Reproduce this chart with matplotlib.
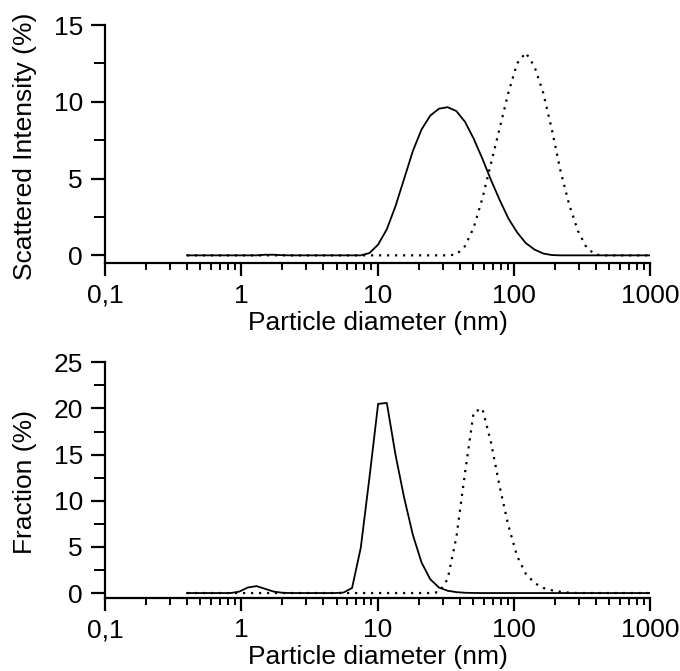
"""DLS size distributions: intensity (top) and number fraction (bottom)."""

import matplotlib
matplotlib.use("Agg")
import matplotlib.pyplot as plt
from matplotlib.ticker import FixedLocator, FixedFormatter, LogLocator, MultipleLocator, NullFormatter

plt.rcParams["font.family"] = ["Liberation Sans", "DejaVu Sans"]

# --- Size bins (nm) ---
diameter = [
    0.4, 0.4632, 0.5365, 0.6213, 0.7195, 0.8332, 0.9649, 1.117, 1.294, 1.499,
    1.736, 2.010, 2.328, 2.696, 3.122, 3.615, 4.187, 4.849, 5.615, 6.503,
    7.531, 8.721, 10.10, 11.70, 13.54, 15.69, 18.17, 21.04, 24.36, 28.21,
    32.67, 37.84, 43.82, 50.75, 58.77, 68.06, 78.82, 91.28, 105.7, 122.4,
    141.8, 164.2, 190.1, 220.2, 255.0, 295.3, 342.0, 396.1, 458.7, 531.2,
    615.1, 712.4, 825.0, 955.4, 1106,
]

# --- Scattered intensity (%) ---
intensity_solid = [
    0, 0, 0, 0, 0, 0, 0, 0, 0, 0.04,
    0.04, 0.01, 0, 0, 0, 0, 0, 0, 0, 0,
    0, 0.15, 0.7, 1.7, 3.2, 5.0, 6.8, 8.2, 9.1, 9.55,
    9.65, 9.4, 8.7, 7.6, 6.3, 4.9, 3.6, 2.4, 1.5, 0.8,
    0.38, 0.12, 0.02, 0, 0, 0, 0, 0, 0, 0,
    0, 0, 0, 0, 0,
]
intensity_dotted = [
    0, 0, 0, 0, 0, 0, 0, 0, 0, 0,
    0, 0, 0, 0, 0, 0, 0, 0, 0, 0,
    0, 0, 0, 0, 0, 0, 0, 0, 0, 0,
    0, 0.05, 0.6, 1.8, 3.7, 6.0, 8.3, 10.6, 12.5, 13.2,
    12.3, 10.6, 8.2, 5.5, 3.3, 1.6, 0.5, 0.05, 0, 0,
    0, 0, 0, 0, 0,
]

# --- Number fraction (%) ---
fraction_solid = [
    0, 0, 0, 0, 0, 0, 0.15, 0.6, 0.75, 0.45,
    0.15, 0.03, 0, 0, 0, 0, 0, 0, 0.05, 0.55,
    4.9, 12.5, 20.5, 20.6, 15.0, 10.3, 6.3, 3.3, 1.5, 0.6,
    0.25, 0.1, 0.03, 0.01, 0, 0, 0, 0, 0, 0,
    0, 0, 0, 0, 0, 0, 0, 0, 0, 0,
    0, 0, 0, 0, 0,
]
fraction_dotted = [
    0, 0, 0, 0, 0, 0, 0, 0, 0, 0,
    0, 0, 0, 0, 0, 0, 0, 0, 0, 0,
    0, 0, 0, 0, 0, 0, 0, 0, 0, 0.1,
    1.5, 6.0, 13.0, 19.6, 20.0, 16.3, 11.5, 7.3, 4.0, 2.1,
    1.1, 0.55, 0.3, 0.13, 0.04, 0, 0, 0, 0, 0,
    0, 0, 0, 0, 0,
]

x_ticks = [0.1, 1, 10, 100, 1000]
x_ticklabels = ["0,1", "1", "10", "100", "1000"]

FS = 19
DOTTED = (0, (1.0, 2.6))


def style_axis(ax, ymax, ylabel):
    ax.set_xscale("log")
    ax.set_xlim(0.1, 1000)
    ax.set_ylim(-0.5, ymax)
    for side in ("top", "right"):
        ax.spines[side].set_visible(False)
    for side in ("left", "bottom"):
        ax.spines[side].set_linewidth(1.6)
    ax.xaxis.set_major_locator(FixedLocator(x_ticks))
    ax.xaxis.set_major_formatter(FixedFormatter(x_ticklabels))
    ax.xaxis.set_minor_locator(LogLocator(base=10, subs=range(2, 10)))
    ax.xaxis.set_minor_formatter(NullFormatter())
    ax.yaxis.set_major_locator(MultipleLocator(5))
    ax.yaxis.set_minor_locator(MultipleLocator(2.5))
    ax.tick_params(axis="x", which="major", direction="out", length=9, width=1.6,
                   labelsize=FS, pad=6)
    ax.tick_params(axis="x", which="minor", direction="out", length=5, width=1.4)
    ax.tick_params(axis="y", which="major", direction="out", length=10, width=1.6,
                   labelsize=FS, pad=6)
    ax.tick_params(axis="y", which="minor", direction="out", length=8, width=1.4)
    ax.set_xlabel("Particle diameter (nm)", fontsize=FS, labelpad=2)
    ax.set_ylabel(ylabel, fontsize=FS)
    ax.yaxis.set_label_coords(-0.125, 0.49)


fig = plt.figure(figsize=(6.8, 6.71), dpi=100)
ax1 = fig.add_axes([0.1544, 0.608, 0.8016, 0.3547])
ax2 = fig.add_axes([0.1544, 0.1093, 0.8016, 0.3507])

ax1.plot(diameter, intensity_solid, color="black", lw=1.3)
ax1.plot(diameter, intensity_dotted, color="black", lw=1.6, linestyle=DOTTED)
style_axis(ax1, 15, "Scattered Intensity (%)")

ax2.plot(diameter, fraction_solid, color="black", lw=1.3)
ax2.plot(diameter, fraction_dotted, color="black", lw=1.6, linestyle=DOTTED)
style_axis(ax2, 25, "Fraction (%)")

fig.savefig("out.png", dpi=100)
